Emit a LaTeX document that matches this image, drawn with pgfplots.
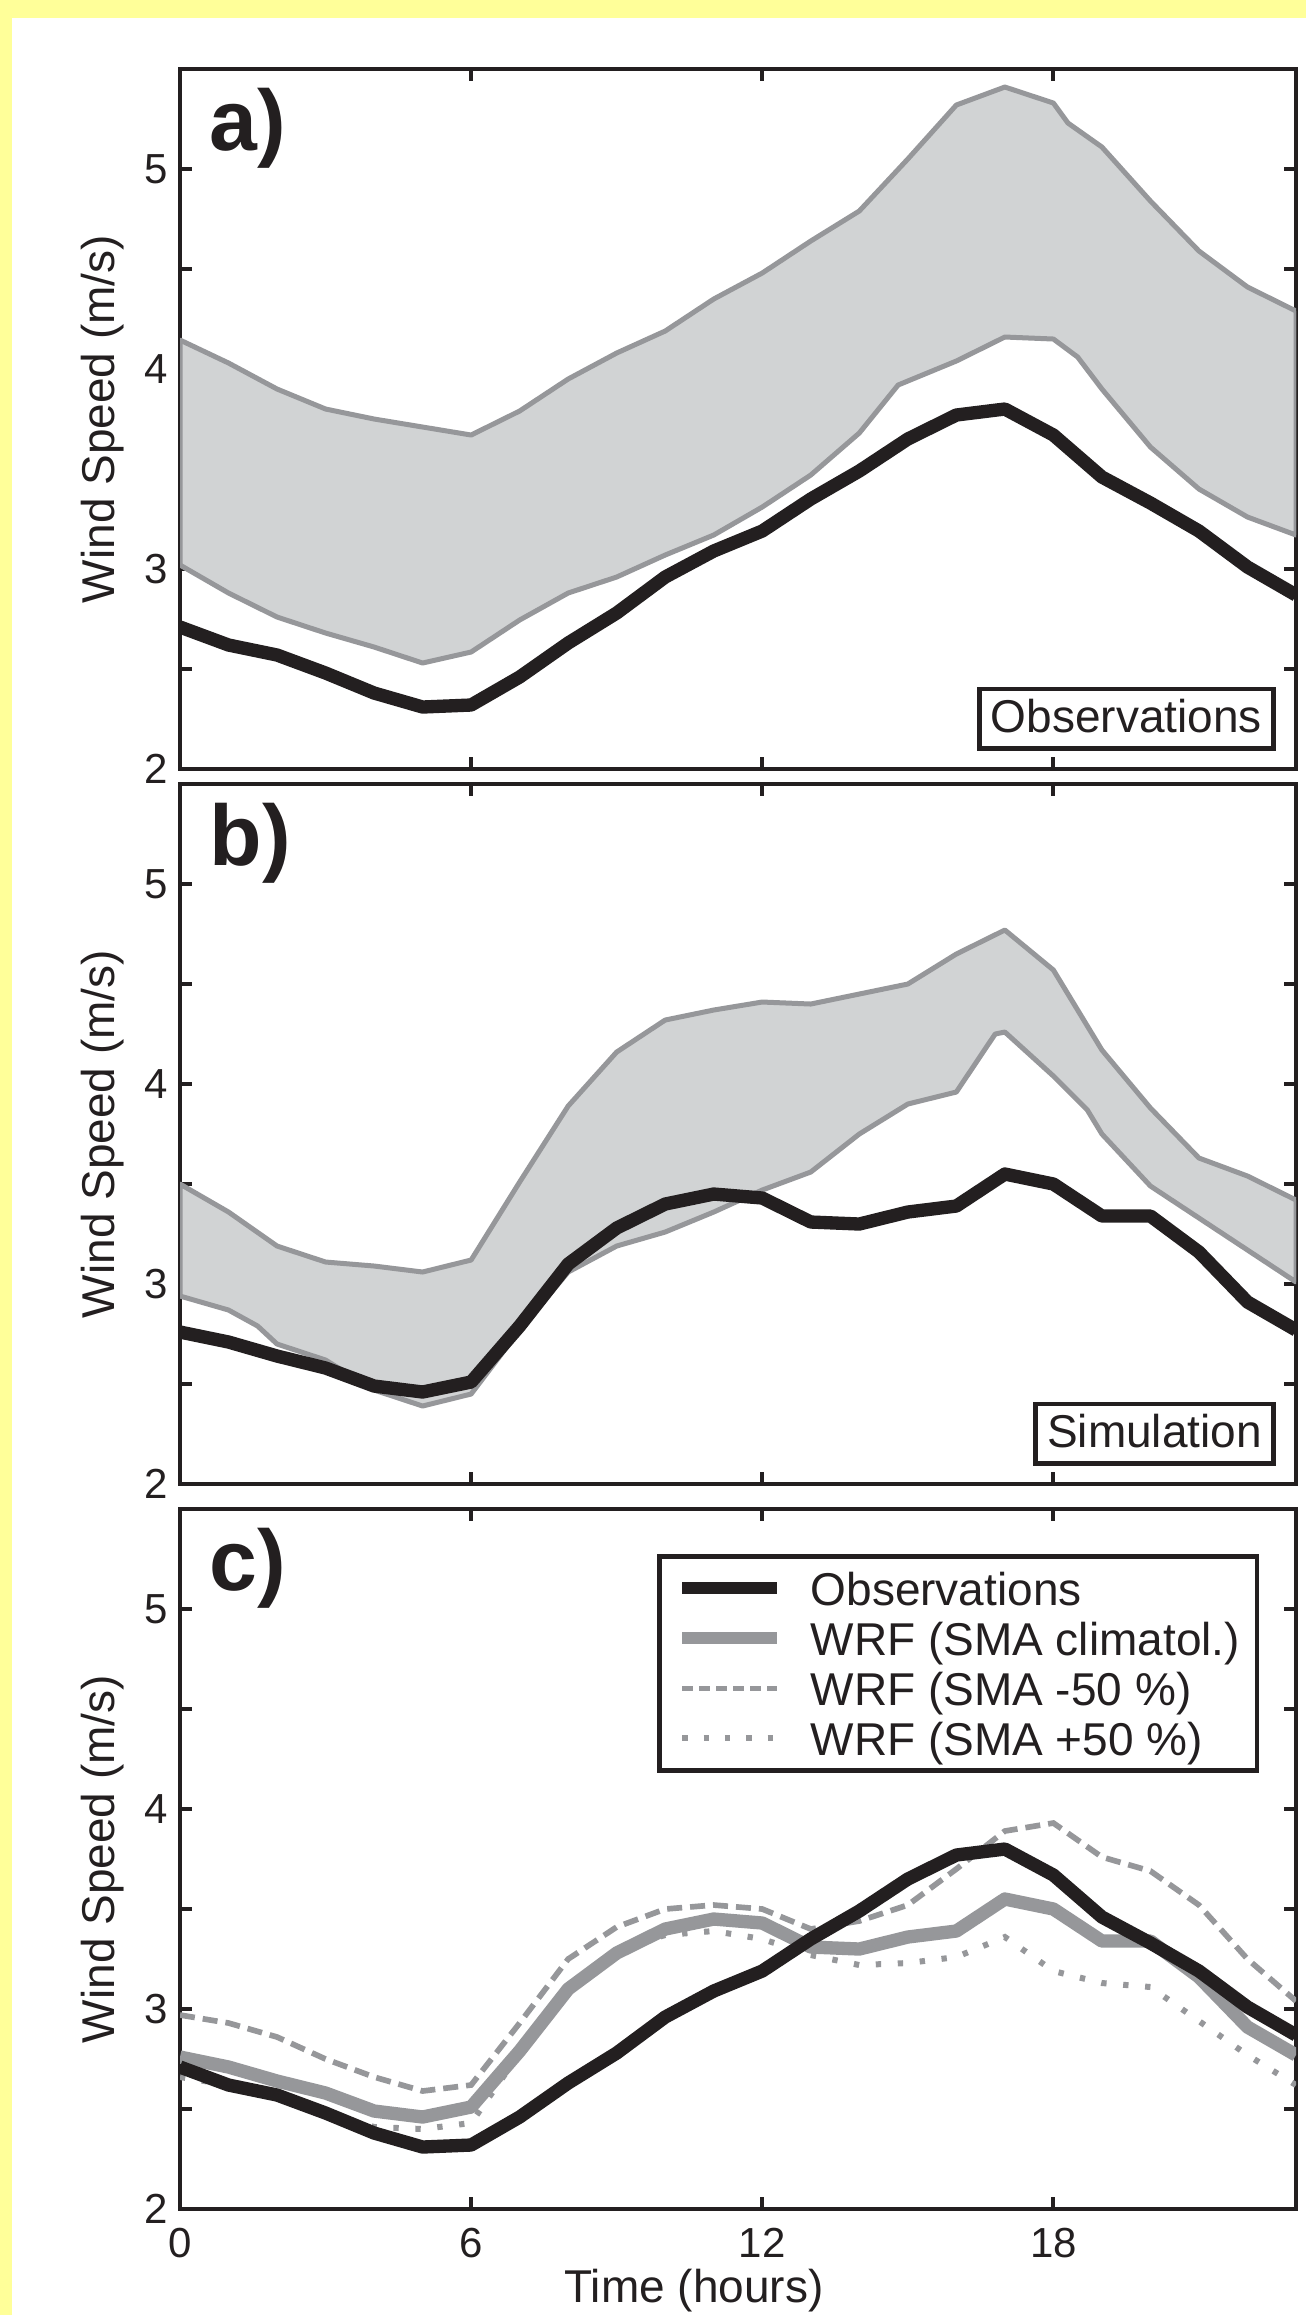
\documentclass[border=0pt]{standalone}
\usepackage{fontspec}
\setmainfont{Liberation Sans}
\usepackage{pgfplots}
\pgfplotsset{compat=1.18}
\definecolor{ink}{HTML}{231F20}
\definecolor{gline}{HTML}{96979A}
\definecolor{gfill}{HTML}{D1D3D4}
\definecolor{ybg}{HTML}{FFFF99}
\pgfplotsset{
 panel/.style={
   scale only axis, width=334.8pt, height=210pt,
   xmin=0, xmax=23, ymin=2, ymax=5.5,
   xtick={0,6,12,18}, ytick={2,3,4,5}, minor ytick={2.5,3.5,4.5},
   tick align=inside, major tick length=3.6pt, minor tick length=3.6pt,
   tick style={ink, line width=1.2pt},
   axis line style={ink, line width=1.4pt},
   tick label style={font=\fontsize{12.6}{14}\selectfont, text=ink},
   /pgf/number format/assume math mode=true,
   ylabel={Wind Speed (m/s)},
   ylabel style={at={(axis description cs:-0.069,0.5)}, anchor=center, font=\fontsize{13.8}{15}\selectfont, text=ink},
 },
}
\tikzset{
 panellabel/.style={anchor=north west, inner sep=0pt, font=\bfseries\fontsize{25.8}{28}\selectfont, text=ink},
 boxlabel/.style={draw=ink, line width=1.4pt, fill=white, inner xsep=3.5pt, inner ysep=3pt, text height=9.9pt, text depth=2pt, anchor=south east, font=\fontsize{13.8}{15}\selectfont, text=ink},
}
\begin{document}
\begin{tikzpicture}
\path[use as bounding box] (0,0) rectangle (391.8pt,-694.5pt);
\fill[white] (0,0) rectangle (391.8pt,-694.5pt);
\fill[ybg] (0,0) rectangle (391.8pt,-5.4pt);
\fill[ybg] (0,0) rectangle (3.6pt,-694.5pt);

% ---------------- panel a
\begin{axis}[panel, at={(54pt,-230.7pt)}, anchor=south west, xticklabels={}]
\addplot[draw=gline, line width=1.5pt, fill=gfill, line join=round] coordinates {
(0,4.145) (1,4.03) (2,3.90) (3,3.80) (4,3.75) (5,3.71) (6,3.67) (7,3.79) (8,3.95) (9,4.08) (10,4.19) (11,4.35)
(12,4.48) (13,4.64) (14,4.79) (15,5.05) (16,5.32) (17,5.41) (18,5.33) (18.3,5.23) (19,5.11) (20,4.84) (21,4.59) (22,4.41) (23,4.29)
(23,3.17) (22,3.26) (21,3.40) (20,3.61) (19,3.90) (18.5,4.06) (18,4.15) (17,4.16) (16,4.04) (15,3.94) (14.8,3.92) (14,3.68) (13,3.47) (12,3.31)
(11,3.17) (10,3.07) (9,2.96) (8,2.88) (7,2.745) (6,2.585) (5,2.53) (4,2.61) (3,2.68) (2,2.76) (1,2.88) (0,3.02)
} -- cycle;
\addplot[ink, line width=4pt, line join=round] coordinates {
(0,2.71) (1,2.62) (2,2.57) (3,2.48) (4,2.38) (5,2.31) (6,2.32) (7,2.46) (8,2.63) (9,2.78) (10,2.96) (11,3.09)
(12,3.19) (13,3.35) (14,3.49) (15,3.65) (16,3.77) (17,3.80) (18,3.67) (19,3.46) (20,3.33) (21,3.19) (22,3.01) (23,2.87)
};
\node[panellabel] at (axis description cs:0.026,0.973) {a)};
\node[boxlabel] at (axis description cs:0.982,0.0257) {Observations};
\end{axis}

% ---------------- panel b
\begin{axis}[panel, at={(54pt,-445.2pt)}, anchor=south west, xticklabels={}]
\addplot[draw=gline, line width=1.5pt, fill=gfill, line join=round] coordinates {
(0,3.50) (1,3.36) (2,3.19) (3,3.11) (4,3.09) (5,3.06) (6,3.12) (7,3.51) (8,3.89) (9,4.16) (10,4.32) (11,4.37)
(12,4.41) (13,4.40) (14,4.45) (15,4.50) (16,4.65) (17,4.77) (18,4.57) (19,4.17) (20,3.88) (21,3.63) (22,3.54) (23,3.42)
(23,3.01) (22,3.17) (21,3.33) (20,3.49) (19,3.75) (18.7,3.87) (18,4.04) (17,4.26) (16.8,4.25) (16,3.96) (15,3.90) (14,3.75) (13,3.56) (12,3.47)
(11,3.36) (10,3.26) (9,3.19) (8,3.06) (7,2.77) (6,2.45) (5,2.39) (4,2.47) (3,2.62) (2,2.70) (1.6,2.79) (1,2.87) (0,2.94)
} -- cycle;
\addplot[ink, line width=4pt, line join=round] coordinates {
(0,2.76) (1,2.71) (2,2.64) (3,2.58) (4,2.49) (5,2.46) (6,2.51) (7,2.79) (8,3.10) (9,3.28) (10,3.40) (11,3.45)
(12,3.43) (13,3.31) (14,3.30) (15,3.36) (16,3.39) (17,3.55) (18,3.50) (19,3.34) (20,3.34) (21,3.16) (22,2.91) (23,2.77)
};
\node[panellabel] at (axis description cs:0.026,0.973) {b)};
\node[boxlabel] at (axis description cs:0.982,0.0257) {Simulation};
\end{axis}

% ---------------- panel c
\begin{axis}[panel, at={(54pt,-662.7pt)}, anchor=south west,
  xticklabel style={yshift=-2.1pt},
  xlabel={Time (hours)},
  xlabel style={at={(axis description cs:0.4606,0)}, anchor=base, yshift=-27.9pt, font=\fontsize{13.8}{15}\selectfont, text=ink},
  legend style={at={(axis description cs:0.4274,0.9357)}, anchor=north west, draw=ink, line width=1.4pt, fill=white,
    inner xsep=5.1pt, inner ysep=4.6pt, row sep=5pt, column sep=8.2pt,
    font=\fontsize{13.8}{15}\selectfont,
    nodes={inner sep=0pt, text height=10pt, text depth=0pt, text=ink}, cells={anchor=west}},
  legend image code/.code={\draw[#1] (0pt,0pt) -- (28.5pt,0pt);},
]
\addlegendimage{ink, line width=3.6pt}
\addlegendentry{Observations}
\addlegendimage{gline, line width=3.6pt}
\addlegendentry{WRF (SMA climatol.)}
\addlegendimage{gline, line width=1.7pt, dash pattern=on 3.3pt off 1.8pt}
\addlegendentry{WRF (SMA -50 \%)}
\addlegendimage{gline, line width=1.8pt, dash pattern=on 1.6pt off 4.8pt}
\addlegendentry{WRF (SMA +50 \%)}
\addplot[forget plot, gline, line width=1.8pt, dash pattern=on 1.6pt off 5pt] coordinates {
(0,2.66) (1,2.62) (2,2.55) (3,2.48) (4,2.41) (5,2.40) (6,2.43) (7,2.78) (8,3.10) (9,3.30) (10,3.37) (11,3.39)
(12,3.35) (13,3.27) (14,3.22) (15,3.23) (16,3.26) (17,3.36) (18,3.19) (19,3.13) (20,3.11) (21,2.94) (22,2.77) (23,2.62)
};
\addplot[forget plot, gline, line width=1.7pt, dash pattern=on 4.5pt off 2.4pt] coordinates {
(0,2.97) (1,2.93) (2,2.86) (3,2.75) (4,2.66) (5,2.59) (6,2.62) (7,2.93) (8,3.25) (9,3.41) (10,3.50) (11,3.52)
(12,3.50) (13,3.40) (14,3.44) (15,3.52) (16,3.70) (17,3.89) (18,3.93) (19,3.76) (20,3.69) (21,3.52) (22,3.25) (23,3.04)
};
\addplot[forget plot, gline, line width=4pt, line join=round] coordinates {
(0,2.76) (1,2.71) (2,2.64) (3,2.58) (4,2.49) (5,2.46) (6,2.51) (7,2.79) (8,3.10) (9,3.28) (10,3.40) (11,3.45)
(12,3.43) (13,3.31) (14,3.30) (15,3.36) (16,3.39) (17,3.55) (18,3.50) (19,3.34) (20,3.34) (21,3.16) (22,2.91) (23,2.77)
};
\addplot[forget plot, ink, line width=4pt, line join=round] coordinates {
(0,2.71) (1,2.62) (2,2.57) (3,2.48) (4,2.38) (5,2.31) (6,2.32) (7,2.46) (8,2.63) (9,2.78) (10,2.96) (11,3.09)
(12,3.19) (13,3.35) (14,3.49) (15,3.65) (16,3.77) (17,3.80) (18,3.67) (19,3.46) (20,3.33) (21,3.19) (22,3.01) (23,2.87)
};
\node[panellabel] at (axis description cs:0.026,0.973) {c)};
\end{axis}
\end{tikzpicture}
\end{document}
